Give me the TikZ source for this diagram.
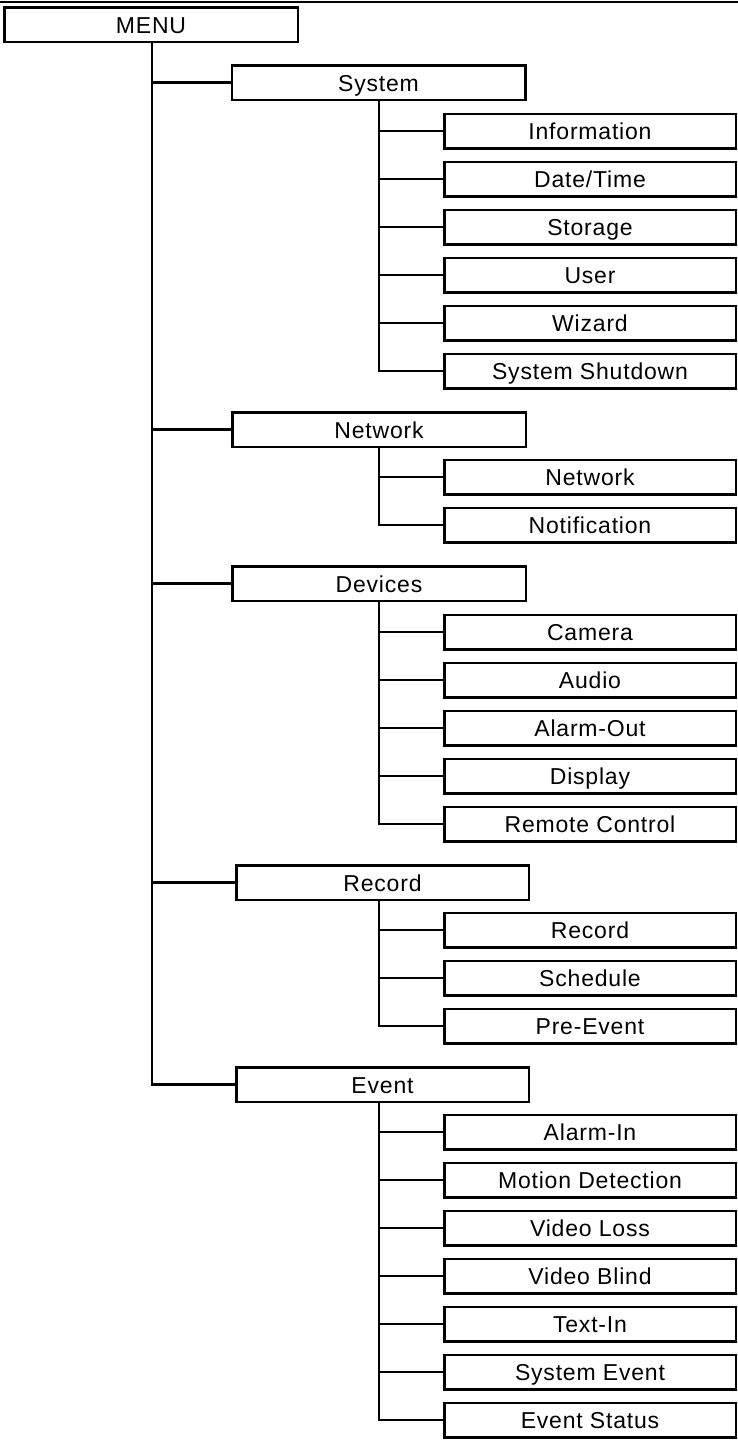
\documentclass[tikz,border=0pt]{standalone}
\usepackage{fontspec}
\setmainfont{Liberation Sans}[LetterSpace=3.5]
\begin{document}
\begin{tikzpicture}[x=1pt,y=-1pt,
  line width=2.5pt,
  boxbase/.style={draw, inner sep=0pt, anchor=center, minimum height=34.5pt,
    font=\fontsize{23}{27}\selectfont, text height=17pt, text depth=-0.5pt},
  menubox/.style={boxbase, minimum width=293.5pt},
  midbox/.style={boxbase, minimum width=293.5pt},
  leafbox/.style={boxbase, minimum width=291.5pt},
  conn/.style={draw, line width=2.5pt}
]
\useasboundingbox (0,0) rectangle (738,1440);
\draw[line width=2.5pt] (0,1.8) -- (738,1.8);

\coordinate (trunk) at (152,0);
\coordinate (sub) at (379,0);

\node[menubox] (menu) at (151,24.5) {MENU};

\node[midbox] (system)  at (378.5,82.5)  {System};
\node[midbox] (network) at (379,429.5)   {Network};
\node[midbox] (devices) at (379,583.5)   {Devices};
\node[midbox, minimum width=292.5pt] (record)  at (382.5,882.5) {Record};
\node[midbox, minimum width=292.5pt] (event)   at (382.5,1084.5) {Event};

% System leaves
\node[leafbox] (info)     at (590,131) {Information};
\node[leafbox] (datetime) at (590,179) {Date/Time};
\node[leafbox] (storage)  at (590,227) {Storage};
\node[leafbox] (user)     at (590,275) {User};
\node[leafbox] (wizard)   at (590,323) {Wizard};
\node[leafbox] (shutdown) at (590,371) {System Shutdown};
% Network leaves
\node[leafbox] (netw)     at (590,477) {Network};
\node[leafbox] (notif)    at (590,525) {Notification};
% Devices leaves
\node[leafbox] (camera)   at (590,632) {Camera};
\node[leafbox] (audio)    at (590,680) {Audio};
\node[leafbox] (alarmout) at (590,728) {Alarm-Out};
\node[leafbox] (display)  at (590,776) {Display};
\node[leafbox] (remote)   at (590,824) {Remote Control};
% Record leaves
\node[leafbox] (rec)      at (590,930) {Record};
\node[leafbox] (sched)    at (590,978) {Schedule};
\node[leafbox] (preevent) at (590,1026) {Pre-Event};
% Event leaves
\node[leafbox] (alarmin)  at (590,1132) {Alarm-In};
\node[leafbox] (motion)   at (590,1180) {Motion Detection};
\node[leafbox] (vloss)    at (590,1228) {Video Loss};
\node[leafbox] (vblind)   at (590,1276) {Video Blind};
\node[leafbox] (textin)   at (590,1324) {Text-In};
\node[leafbox] (sysevent) at (590,1372) {System Event};
\node[leafbox] (evstatus) at (590,1420) {Event Status};

% main trunk
\draw[conn] (menu.south -| trunk) |- (event.west);
\foreach \n in {system,network,devices,record}
  \draw[conn] (trunk |- \n.west) -- (\n.west);

% sub trunks
\draw[conn] (system.south -| sub) |- (shutdown.west);
\foreach \n in {info,datetime,storage,user,wizard}
  \draw[conn] (sub |- \n.west) -- (\n.west);

\draw[conn] (network.south -| sub) |- (notif.west);
\draw[conn] (sub |- netw.west) -- (netw.west);

\draw[conn] (devices.south -| sub) |- (remote.west);
\foreach \n in {camera,audio,alarmout,display}
  \draw[conn] (sub |- \n.west) -- (\n.west);

\draw[conn] (record.south -| sub) |- (preevent.west);
\foreach \n in {rec,sched}
  \draw[conn] (sub |- \n.west) -- (\n.west);

\draw[conn] (event.south -| sub) |- (evstatus.west);
\foreach \n in {alarmin,motion,vloss,vblind,textin,sysevent}
  \draw[conn] (sub |- \n.west) -- (\n.west);
\end{tikzpicture}
\end{document}
